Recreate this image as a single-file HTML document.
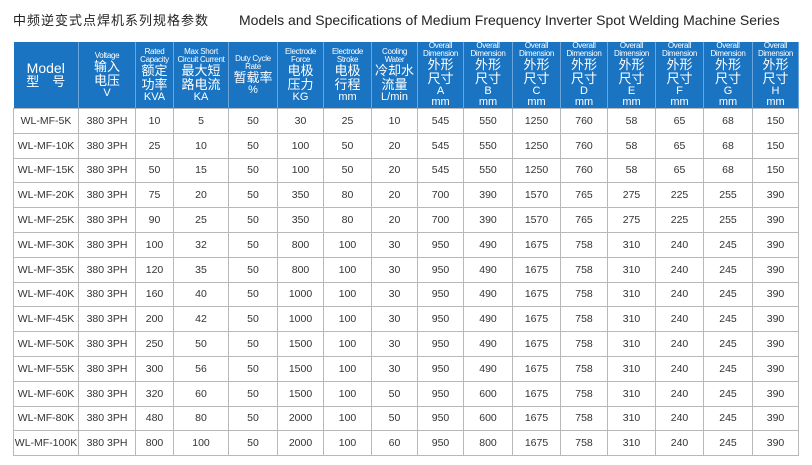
<!DOCTYPE html>
<html><head><meta charset="utf-8"><style>
body{margin:0;width:812px;height:465px;background:#fff;position:relative;overflow:hidden;font-family:"Liberation Sans","Noto Sans CJK SC",sans-serif}
.title{position:absolute;top:10px;left:13px;font-size:14px;color:#222;white-space:nowrap}
.title .cn{font-size:13px;letter-spacing:1px;margin-right:30px}
table{position:absolute;left:13px;top:42px;border-collapse:collapse;table-layout:fixed}
th{background:#1b74c2;color:#fff;font-weight:normal;height:63px;border-right:1px solid #6aa6dc;padding:0;line-height:1;vertical-align:middle}
th .en{font-size:8px;display:block;letter-spacing:-.3px}
th .zh{font-size:13px;display:block;line-height:14px}
th .u{font-size:11px;display:block}
td{height:23.8px;border:1px solid #b8b8b8;text-align:center;font-size:10.5px;color:#333;padding:0;white-space:nowrap}
</style></head><body>
<div class="title"><span class="cn">中频逆变式点焊机系列规格参数</span>Models and Specifications of Medium Frequency Inverter Spot Welding Machine Series</div>
<table>
<colgroup><col style="width:65px"><col style="width:57px"><col style="width:38px"><col style="width:55px"><col style="width:49px"><col style="width:46px"><col style="width:48px"><col style="width:46px"><col style="width:46px"><col style="width:49px"><col style="width:48px"><col style="width:47px"><col style="width:48px"><col style="width:48px"><col style="width:49px"><col style="width:46px"></colgroup>
<thead><tr>
<th><span class="zh" style="font-size:14px">Model</span><span class="zh">型　号</span></th>
<th><span class="en">Voltage</span><span class="zh">输入<br>电压</span><span class="u">V</span></th>
<th><span class="en">Rated<br>Capacity</span><span class="zh">额定<br>功率</span><span class="u">KVA</span></th>
<th><span class="en">Max Short<br>Circuit Current</span><span class="zh">最大短<br>路电流</span><span class="u">KA</span></th>
<th><span class="en">Duty Cycle<br>Rate</span><span class="zh">暂载率</span><span class="u">%</span></th>
<th><span class="en">Electrode<br>Force</span><span class="zh">电极<br>压力</span><span class="u">KG</span></th>
<th><span class="en">Electrode<br>Stroke</span><span class="zh">电极<br>行程</span><span class="u">mm</span></th>
<th><span class="en">Cooling<br>Water</span><span class="zh">冷却水<br>流量</span><span class="u">L/min</span></th>
<th><span class="en">Overall<br>Dimension</span><span class="zh">外形<br>尺寸</span><span class="u">A<br>mm</span></th>
<th><span class="en">Overall<br>Dimension</span><span class="zh">外形<br>尺寸</span><span class="u">B<br>mm</span></th>
<th><span class="en">Overall<br>Dimension</span><span class="zh">外形<br>尺寸</span><span class="u">C<br>mm</span></th>
<th><span class="en">Overall<br>Dimension</span><span class="zh">外形<br>尺寸</span><span class="u">D<br>mm</span></th>
<th><span class="en">Overall<br>Dimension</span><span class="zh">外形<br>尺寸</span><span class="u">E<br>mm</span></th>
<th><span class="en">Overall<br>Dimension</span><span class="zh">外形<br>尺寸</span><span class="u">F<br>mm</span></th>
<th><span class="en">Overall<br>Dimension</span><span class="zh">外形<br>尺寸</span><span class="u">G<br>mm</span></th>
<th><span class="en">Overall<br>Dimension</span><span class="zh">外形<br>尺寸</span><span class="u">H<br>mm</span></th>
</tr></thead>
<tbody id="tb"></tbody></table>
<script>
const models=["WL-MF-5K","WL-MF-10K","WL-MF-15K","WL-MF-20K","WL-MF-25K","WL-MF-30K","WL-MF-35K","WL-MF-40K","WL-MF-45K","WL-MF-50K","WL-MF-55K","WL-MF-60K","WL-MF-80K","WL-MF-100K"];
const capacity=[10,25,50,75,90,100,120,160,200,250,300,320,480,800];
const current=[5,10,15,20,25,32,35,40,42,50,56,60,80,100];
const force=[30,100,100,350,350,800,800,1000,1000,1500,1500,1500,2000,2000];
const stroke=[25,50,50,80,80,100,100,100,100,100,100,100,100,100];
const water=[10,20,20,20,20,30,30,30,30,30,30,50,50,60];
const dimA=[545,545,545,700,700,950,950,950,950,950,950,950,950,950];
const dimB=[550,550,550,390,390,490,490,490,490,490,490,600,600,800];
const dimC=["1250","1250","1250","1570","1570","1675","1675","1675","1675","1675","1675","1675","1675","1675"];
const dimD=[760,760,760,765,765,758,758,758,758,758,758,758,758,758];
const dimE=[58,58,58,275,275,310,310,310,310,310,310,310,310,310];
const dimF=[65,65,65,225,225,240,240,240,240,240,240,240,240,240];
const dimG=[68,68,68,255,255,245,245,245,245,245,245,245,245,245];
const dimH=[150,150,150,390,390,390,390,390,390,390,390,390,390,390];
const tb=document.getElementById('tb');
models.forEach((m,i)=>{
const tr=document.createElement('tr');


[m,"380 3PH",capacity[i],current[i],50,force[i],stroke[i],water[i],dimA[i],dimB[i],dimC[i],dimD[i],dimE[i],dimF[i],dimG[i],dimH[i]].forEach(v=>{
const td=document.createElement('td');td.textContent=v;tr.appendChild(td);});
tb.appendChild(tr);});
</script>
</body></html>
